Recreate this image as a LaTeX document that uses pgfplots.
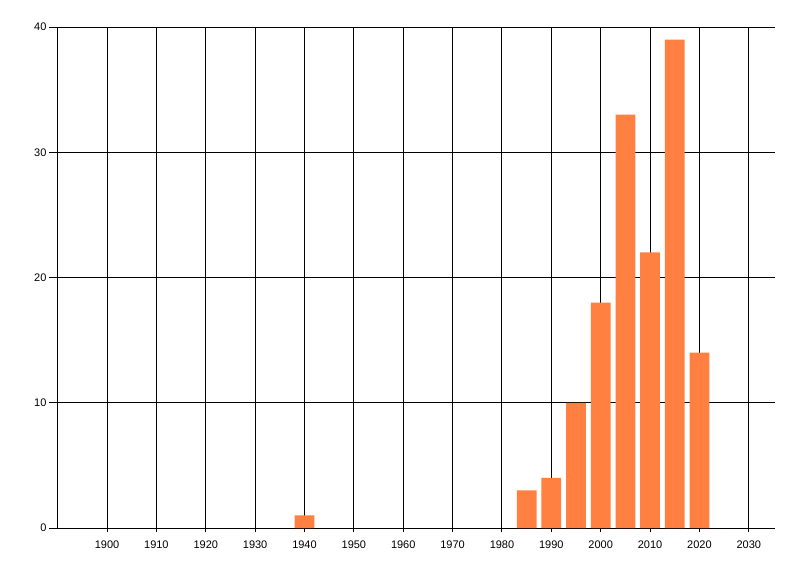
\documentclass[border=0pt]{standalone}
\usepackage{pgfplots}
\pgfplotsset{compat=1.18}
\usepackage{fontspec}
\setmainfont{Liberation Sans}
\definecolor{barorange}{RGB}{255,128,64}
\begin{document}
\begin{tikzpicture}[x=1pt,y=1pt]
\path[use as bounding box] (0,0) rectangle (800,576);
\begin{axis}[
  at={(57pt,48pt)}, anchor=south west,
  scale only axis, width=718pt, height=501pt,
  xmin=1889.87, xmax=2035.3, ymin=0, ymax=40,
  axis x line*=bottom, axis y line*=left,
  axis line style={black, line width=1pt, -},
  xtick={1900,1910,...,2030}, ytick={0,10,20,30,40},
  xticklabel style={/pgf/number format/1000 sep={}},
  grid=major, major grid style={black, line width=1pt},
  major tick length=8pt,
  tick align=outside,
  x tick style={black, line width=1pt, yshift=4pt},
  y tick style={black, line width=1pt},
  tick label style={font=\fontsize{11}{13}\selectfont, text=black},
  /pgf/number format/assume math mode=true,
  xticklabel style={yshift=-1pt},
  yticklabel style={xshift=1pt},
  ybar, bar width=4,
]
\addplot[fill=barorange, draw=none] coordinates {
(1940,1) (1985,3) (1990,4) (1995,10) (2000,18) (2005,33) (2010,22) (2015,39) (2020,14)
};
\draw[black, line width=1pt] (axis cs:1889.87,40) -- (axis cs:2035.3,40);
\end{axis}
\end{tikzpicture}
\end{document}
